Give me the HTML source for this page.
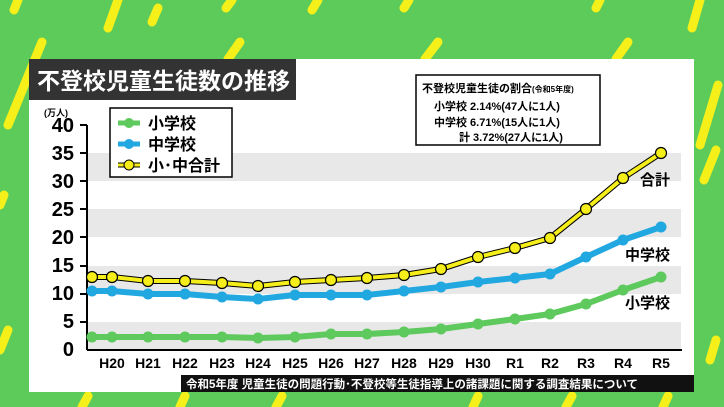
<!DOCTYPE html>
<html><head><meta charset="utf-8"><style>
body{margin:0;width:724px;height:407px;overflow:hidden;background:#5ccb5a;font-family:"Liberation Sans","Noto Sans CJK JP",sans-serif;}
</style></head><body>
<svg width="724" height="407" xmlns="http://www.w3.org/2000/svg" style="position:absolute;left:0;top:0">
<rect width="724" height="407" fill="#5ccb5a"/>
<g stroke="#f5ef1a" stroke-width="9" stroke-linecap="round">
<line x1="18" y1="0" x2="14" y2="10"/><line x1="118" y1="0" x2="108" y2="28"/><line x1="158" y1="8" x2="152" y2="22"/>
<line x1="232" y1="0" x2="226" y2="8"/><line x1="318" y1="0" x2="312" y2="10"/><line x1="409" y1="0" x2="404" y2="8"/>
<line x1="700" y1="0" x2="692" y2="28"/><line x1="600" y1="0" x2="596" y2="8"/>
<line x1="42" y1="42" x2="8" y2="125"/><line x1="240" y1="42" x2="228" y2="59"/><line x1="438" y1="42" x2="425" y2="59"/>
<line x1="628" y1="42" x2="616" y2="59"/><line x1="718" y1="85" x2="700" y2="145"/>
<line x1="4" y1="195" x2="0" y2="205"/><line x1="716" y1="150" x2="704" y2="180"/>
<line x1="8" y1="330" x2="0" y2="350"/><line x1="716" y1="340" x2="710" y2="360"/>
<line x1="88" y1="396" x2="82" y2="407"/><line x1="185" y1="396" x2="180" y2="407"/><line x1="282" y1="396" x2="276" y2="407"/>
<line x1="478" y1="396" x2="473" y2="407"/><line x1="572" y1="396" x2="566" y2="407"/><line x1="668" y1="396" x2="663" y2="407"/>
</g>
<rect x="29" y="59" width="665" height="333" fill="#fff"/>
<rect x="29" y="59" width="267" height="41" fill="#333"/>
<text x="37" y="89" fill="#fff" font-size="23" font-weight="bold">不登校児童生徒数の推移</text>
<g fill="#e8e8e8">
<rect x="87" y="153" width="594" height="28"/><rect x="87" y="209" width="594" height="28"/>
<rect x="87" y="266" width="594" height="28"/><rect x="87" y="322" width="594" height="28"/>
</g>
<text x="44" y="116" font-size="9" font-weight="bold">(万人)</text>
<g font-size="20" font-weight="bold" text-anchor="end">
<text x="74" y="132">40</text><text x="74" y="160">35</text><text x="74" y="188">30</text><text x="74" y="216">25</text>
<text x="74" y="244">20</text><text x="74" y="272">15</text><text x="74" y="300">10</text><text x="74" y="328">5</text><text x="74" y="356">0</text>
</g>
<g stroke="#000" stroke-width="2">
<line x1="87" y1="125" x2="87" y2="350"/><line x1="87" y1="350" x2="682" y2="350"/>
<line x1="80" y1="125" x2="87" y2="125"/><line x1="80" y1="153" x2="87" y2="153"/><line x1="80" y1="181" x2="87" y2="181"/>
<line x1="80" y1="209" x2="87" y2="209"/><line x1="80" y1="237" x2="87" y2="237"/><line x1="80" y1="266" x2="87" y2="266"/>
<line x1="80" y1="294" x2="87" y2="294"/><line x1="80" y1="322" x2="87" y2="322"/>
</g>
<g font-size="14" font-weight="bold" text-anchor="middle">
<text x="112" y="368">H20</text><text x="148" y="368">H21</text><text x="185" y="368">H22</text><text x="222" y="368">H23</text>
<text x="258" y="368">H24</text><text x="295" y="368">H25</text><text x="331" y="368">H26</text><text x="367" y="368">H27</text>
<text x="404" y="368">H28</text><text x="441" y="368">H29</text><text x="478" y="368">H30</text><text x="515" y="368">R1</text>
<text x="550" y="368">R2</text><text x="586" y="368">R3</text><text x="623" y="368">R4</text><text x="661" y="368">R5</text>
</g>
<g fill="none" stroke-linejoin="round">
<polyline stroke="#5ec95d" stroke-width="6" points="92,337 112,337 148,337 185,337 222,337 258,338 295,337 331,334 367,334 404,332 441,329 478,324 515,319 550,314 586,304 623,290 661,277"/>
<polyline stroke="#22a8e0" stroke-width="6" points="92,291 112,291 148,294 185,294 222,297 258,299 295,295 331,295 367,295 404,291 441,287 478,282 515,278 550,274 586,257 623,240 661,227"/>
<polyline stroke="#000" stroke-width="6" points="92,277 112,277 148,281 185,281 222,283 258,286 295,282 331,280 367,278 404,275 441,269 478,257 515,248 550,238 586,209 623,178 661,153"/>
<polyline stroke="#f5ee1a" stroke-width="4" points="92,277 112,277 148,281 185,281 222,283 258,286 295,282 331,280 367,278 404,275 441,269 478,257 515,248 550,238 586,209 623,178 661,153"/>
</g>
<g fill="#5ec95d"><circle cx="92" cy="337" r="5.5"/><circle cx="112" cy="337" r="5.5"/><circle cx="148" cy="337" r="5.5"/><circle cx="185" cy="337" r="5.5"/><circle cx="222" cy="337" r="5.5"/><circle cx="258" cy="338" r="5.5"/><circle cx="295" cy="337" r="5.5"/><circle cx="331" cy="334" r="5.5"/><circle cx="367" cy="334" r="5.5"/><circle cx="404" cy="332" r="5.5"/><circle cx="441" cy="329" r="5.5"/><circle cx="478" cy="324" r="5.5"/><circle cx="515" cy="319" r="5.5"/><circle cx="550" cy="314" r="5.5"/><circle cx="586" cy="304" r="5.5"/><circle cx="623" cy="290" r="5.5"/><circle cx="661" cy="277" r="5.5"/></g>
<g fill="#22a8e0"><circle cx="92" cy="291" r="5.5"/><circle cx="112" cy="291" r="5.5"/><circle cx="148" cy="294" r="5.5"/><circle cx="185" cy="294" r="5.5"/><circle cx="222" cy="297" r="5.5"/><circle cx="258" cy="299" r="5.5"/><circle cx="295" cy="295" r="5.5"/><circle cx="331" cy="295" r="5.5"/><circle cx="367" cy="295" r="5.5"/><circle cx="404" cy="291" r="5.5"/><circle cx="441" cy="287" r="5.5"/><circle cx="478" cy="282" r="5.5"/><circle cx="515" cy="278" r="5.5"/><circle cx="550" cy="274" r="5.5"/><circle cx="586" cy="257" r="5.5"/><circle cx="623" cy="240" r="5.5"/><circle cx="661" cy="227" r="5.5"/></g>
<g fill="#f5ee1a" stroke="#000" stroke-width="1.2"><circle cx="92" cy="277" r="5.5"/><circle cx="112" cy="277" r="5.5"/><circle cx="148" cy="281" r="5.5"/><circle cx="185" cy="281" r="5.5"/><circle cx="222" cy="283" r="5.5"/><circle cx="258" cy="286" r="5.5"/><circle cx="295" cy="282" r="5.5"/><circle cx="331" cy="280" r="5.5"/><circle cx="367" cy="278" r="5.5"/><circle cx="404" cy="275" r="5.5"/><circle cx="441" cy="269" r="5.5"/><circle cx="478" cy="257" r="5.5"/><circle cx="515" cy="248" r="5.5"/><circle cx="550" cy="238" r="5.5"/><circle cx="586" cy="209" r="5.5"/><circle cx="623" cy="178" r="5.5"/><circle cx="661" cy="153" r="5.5"/></g>
<g font-size="15" font-weight="bold">
<text x="640" y="185">合計</text><text x="625" y="260">中学校</text><text x="625" y="308">小学校</text>
</g>
<rect x="110" y="108" width="122" height="69" fill="#fff" stroke="#000" stroke-width="1.5"/>
<line x1="118" y1="123" x2="140" y2="123" stroke="#5ec95d" stroke-width="5"/><circle cx="129" cy="123" r="5" fill="#5ec95d"/>
<line x1="118" y1="144" x2="140" y2="144" stroke="#22a8e0" stroke-width="5"/><circle cx="129" cy="144" r="5" fill="#22a8e0"/>
<line x1="118" y1="165" x2="140" y2="165" stroke="#000" stroke-width="5"/><line x1="118" y1="165" x2="140" y2="165" stroke="#f5ee1a" stroke-width="3"/><circle cx="129" cy="165" r="5" fill="#f5ee1a" stroke="#000"/>
<g font-size="16" font-weight="bold"><text x="148" y="129">小学校</text><text x="148" y="150">中学校</text><text x="148" y="171">小･中合計</text></g>
<rect x="416" y="75" width="184" height="70" fill="#fff" stroke="#000" stroke-width="1.5"/>
<g font-size="11" font-weight="bold">
<text x="422" y="92">不登校児童生徒の割合<tspan font-size="8">(令和5年度)</tspan></text>
<text x="434" y="110">小学校 2.14%(47人に1人)</text>
<text x="434" y="126">中学校 6.71%(15人に1人)</text>
<text x="459" y="141">計 3.72%(27人に1人)</text>
</g>
<rect x="181" y="375" width="513" height="17" fill="#111"/>
<text x="186" y="388" fill="#fff" font-size="11.5" font-weight="bold">令和5年度 児童生徒の問題行動･不登校等生徒指導上の諸課題に関する調査結果について</text>
</svg>
</body></html>
